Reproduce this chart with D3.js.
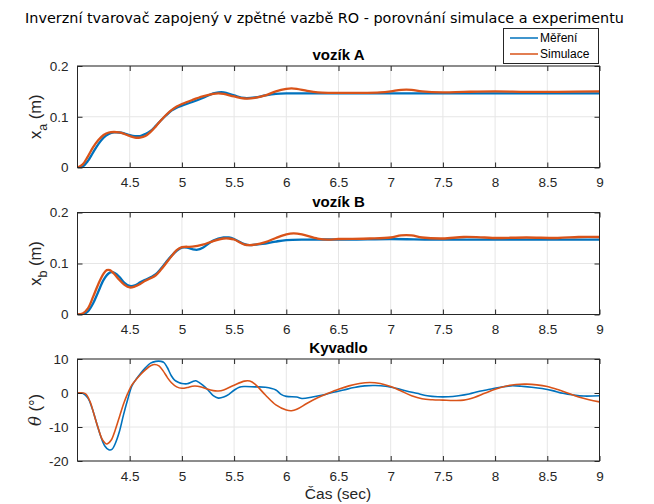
<!DOCTYPE html>
<html>
<head>
<meta charset="utf-8">
<script src="https://cdn.jsdelivr.net/npm/d3@7"></script>
<style>
body { margin: 0; background: #fff; }
svg { display: block; }
.tick text { font-family: "Liberation Sans", Arial, sans-serif; font-size: 13.5px; fill: #262626; }
</style>
</head>
<body>
<div id="chart"></div>
<script>
// cas (s) a hodnoty
var xTicks = [4.5, 5, 5.5, 6, 6.5, 7, 7.5, 8, 8.5, 9];

var tSimA = [4.0, 4.05, 4.1, 4.15, 4.2, 4.25, 4.3, 4.35, 4.4, 4.45, 4.5, 4.55, 4.6, 4.65, 4.7, 4.75, 4.8, 4.85, 4.9, 4.95, 5.0, 5.1, 5.2, 5.3, 5.35, 5.4, 5.5, 5.6, 5.7, 5.8, 5.9, 6.0, 6.05, 6.1, 6.2, 6.3, 6.4, 6.5, 6.7, 6.9, 7.0, 7.1, 7.2, 7.3, 7.5, 7.7, 8.0, 8.3, 8.6, 9.0];
var simA = [0, 0.006, 0.022, 0.040, 0.054, 0.064, 0.069, 0.070, 0.069, 0.066, 0.062, 0.059, 0.059, 0.062, 0.070, 0.081, 0.093, 0.104, 0.113, 0.120, 0.125, 0.133, 0.140, 0.145, 0.146, 0.145, 0.140, 0.136, 0.137, 0.142, 0.150, 0.155, 0.156, 0.155, 0.151, 0.148, 0.147, 0.147, 0.147, 0.148, 0.150, 0.153, 0.153, 0.150, 0.148, 0.149, 0.150, 0.149, 0.149, 0.150];
var tMerA = [4.0, 4.05, 4.1, 4.15, 4.2, 4.25, 4.3, 4.35, 4.4, 4.45, 4.5, 4.55, 4.6, 4.65, 4.7, 4.75, 4.8, 4.85, 4.9, 4.95, 5.0, 5.1, 5.2, 5.3, 5.35, 5.4, 5.5, 5.6, 5.7, 5.8, 5.9, 6.0, 6.3, 6.6, 7.0, 7.4, 7.8, 8.2, 8.6, 9.0];
var merA = [0, 0.002, 0.013, 0.030, 0.046, 0.059, 0.066, 0.069, 0.069, 0.067, 0.064, 0.062, 0.062, 0.066, 0.072, 0.082, 0.093, 0.103, 0.112, 0.118, 0.122, 0.129, 0.137, 0.146, 0.148, 0.148, 0.142, 0.137, 0.138, 0.142, 0.145, 0.146, 0.146, 0.146, 0.146, 0.146, 0.146, 0.146, 0.146, 0.146];

var tSimB = [4.0, 4.05, 4.1, 4.15, 4.2, 4.25, 4.28, 4.31, 4.35, 4.4, 4.45, 4.5, 4.55, 4.6, 4.65, 4.7, 4.75, 4.8, 4.85, 4.9, 4.95, 5.0, 5.1, 5.2, 5.3, 5.4, 5.45, 5.5, 5.6, 5.65, 5.7, 5.8, 5.9, 6.0, 6.07, 6.15, 6.3, 6.4, 6.5, 6.8, 7.0, 7.1, 7.2, 7.3, 7.5, 7.7, 7.9, 8.0, 8.3, 8.6, 8.8, 9.0];
var simB = [0, 0.002, 0.012, 0.035, 0.060, 0.080, 0.087, 0.087, 0.080, 0.068, 0.058, 0.053, 0.055, 0.060, 0.066, 0.071, 0.077, 0.088, 0.101, 0.114, 0.126, 0.132, 0.133, 0.137, 0.144, 0.149, 0.149, 0.147, 0.137, 0.136, 0.137, 0.142, 0.150, 0.157, 0.159, 0.157, 0.149, 0.147, 0.148, 0.149, 0.151, 0.155, 0.155, 0.151, 0.149, 0.152, 0.151, 0.150, 0.151, 0.150, 0.152, 0.152];
var tMerB = [4.0, 4.05, 4.1, 4.15, 4.2, 4.25, 4.3, 4.33, 4.36, 4.4, 4.45, 4.5, 4.55, 4.6, 4.65, 4.7, 4.75, 4.8, 4.85, 4.9, 4.95, 5.0, 5.05, 5.1, 5.15, 5.2, 5.3, 5.4, 5.45, 5.5, 5.6, 5.65, 5.7, 5.8, 5.9, 6.0, 6.2, 6.6, 7.0, 7.4, 7.8, 8.2, 8.6, 9.0];
var merB = [0, 0, 0.006, 0.022, 0.045, 0.068, 0.081, 0.083, 0.081, 0.074, 0.062, 0.056, 0.057, 0.063, 0.068, 0.073, 0.079, 0.090, 0.103, 0.115, 0.125, 0.131, 0.131, 0.128, 0.127, 0.131, 0.145, 0.151, 0.151, 0.148, 0.138, 0.136, 0.137, 0.139, 0.143, 0.146, 0.147, 0.147, 0.148, 0.147, 0.147, 0.147, 0.147, 0.147];

var tSimK = [4.0, 4.05, 4.08, 4.12, 4.16, 4.2, 4.24, 4.28, 4.32, 4.36, 4.4, 4.44, 4.48, 4.52, 4.56, 4.6, 4.65, 4.7, 4.74, 4.78, 4.82, 4.86, 4.9, 4.95, 5.0, 5.05, 5.1, 5.15, 5.2, 5.3, 5.35, 5.4, 5.5, 5.6, 5.65, 5.7, 5.8, 5.9, 6.0, 6.05, 6.1, 6.2, 6.3, 6.4, 6.5, 6.6, 6.7, 6.8, 6.9, 7.0, 7.1, 7.2, 7.3, 7.4, 7.5, 7.6, 7.7, 7.8, 7.9, 8.0, 8.1, 8.2, 8.3, 8.4, 8.5, 8.6, 8.7, 8.8, 8.9, 9.0];
var simK = [0, 0, -0.3, -2.5, -6.5, -10.5, -13.8, -15.0, -14.0, -11.0, -7.2, -3.3, -0.2, 2.3, 3.9, 5.3, 6.8, 8.0, 8.4, 8.0, 6.5, 4.6, 3.0, 1.8, 1.4, 1.6, 2.0, 2.0, 1.6, 0.7, 0.6, 0.9, 2.3, 3.5, 3.5, 2.6, -0.6, -3.5, -5.0, -5.2, -4.8, -3.0, -1.4, -0.1, 1.1, 2.1, 2.8, 3.1, 2.8, 1.9, 0.6, -0.8, -1.7, -2.0, -2.1, -2.2, -2.1, -1.3, -0.1, 1.1, 2.0, 2.5, 2.6, 2.4, 1.9, 1.0, -0.1, -1.2, -2.0, -2.6];
var tMerK = [4.0, 4.05, 4.1, 4.14, 4.18, 4.22, 4.26, 4.3, 4.33, 4.36, 4.4, 4.44, 4.48, 4.52, 4.56, 4.6, 4.65, 4.7, 4.75, 4.8, 4.83, 4.86, 4.9, 4.93, 4.97, 5.0, 5.05, 5.1, 5.13, 5.16, 5.2, 5.25, 5.3, 5.35, 5.4, 5.45, 5.5, 5.55, 5.6, 5.7, 5.8, 5.9, 5.95, 6.0, 6.1, 6.15, 6.25, 6.35, 6.45, 6.55, 6.65, 6.75, 6.85, 6.95, 7.05, 7.15, 7.25, 7.35, 7.45, 7.55, 7.65, 7.75, 7.85, 7.95, 8.05, 8.15, 8.25, 8.35, 8.45, 8.55, 8.65, 8.75, 8.85, 9.0];
var merK = [0, -0.1, -1.5, -4.5, -8.5, -12.5, -15.5, -16.7, -16.6, -15.0, -11.5, -6.5, -2.0, 2.0, 4.0, 5.6, 7.4, 8.8, 9.3, 9.3, 8.9, 7.5, 5.0, 3.8, 3.1, 2.8, 2.7, 3.3, 3.6, 3.2, 2.3, 0.9, -0.8, -1.5, -1.2, -0.4, 0.8, 1.7, 1.9, 1.8, 1.7, 0.9, -0.4, -1.0, -1.2, -1.6, -1.2, -0.6, 0.2, 0.9, 1.6, 2.1, 2.2, 2.0, 1.4, 0.6, -0.1, -0.8, -1.1, -1.1, -0.8, -0.3, 0.5, 1.1, 1.7, 2.1, 2.0, 1.7, 1.3, 0.7, -0.1, -0.6, -0.9, -0.8];

var yTicksX = [0, 0.1, 0.2];
var yTicksK = [-20, -10, 0, 10];

var colMer = "#0072BD", colSim = "#D95319";

var W = 654, H = 504;
var svg = d3.select("#chart").append("svg").attr("width", W).attr("height", H);

var xScale = d3.scaleLinear().domain([4.0, 9]).range([77.5, 599.5]);

function zip(t, v) { return t.map(function(d, i) { return [d, v[i]]; }); }

function panel(cfg) {
  var y = d3.scaleLinear().domain(cfg.domain).range([cfg.bottom, cfg.top]);
  var g = svg.append("g");
  var x0 = xScale.range()[0], x1 = xScale.range()[1];

  // mrizka
  g.selectAll(".gx").data(xTicks).enter().append("line")
    .attr("x1", function(d) { return xScale(d); }).attr("x2", function(d) { return xScale(d); })
    .attr("y1", cfg.top).attr("y2", cfg.bottom)
    .attr("stroke", "#e6e6e6").attr("stroke-width", 1);
  g.selectAll(".gy").data(cfg.yTicks).enter().append("line")
    .attr("x1", x0).attr("x2", x1)
    .attr("y1", function(d) { return y(d); }).attr("y2", function(d) { return y(d); })
    .attr("stroke", "#e6e6e6").attr("stroke-width", 1);

  var clipId = "clip" + cfg.id;
  svg.append("clipPath").attr("id", clipId).append("rect")
    .attr("x", x0).attr("y", cfg.top).attr("width", x1 - x0).attr("height", cfg.bottom - cfg.top);

  var lineSim = d3.line().curve(d3.curveCatmullRom).x(function(d) { return xScale(d[0]); }).y(function(d) { return y(d[1]); });
  var lines = g.append("g").attr("clip-path", "url(#" + clipId + ")");
  lines.append("path").datum(zip(cfg.tMer, cfg.mer))
    .attr("d", lineSim).attr("fill", "none").attr("stroke", colMer).attr("stroke-width", cfg.lw);
  lines.append("path").datum(zip(cfg.tSim, cfg.sim))
    .attr("d", lineSim).attr("fill", "none").attr("stroke", colSim).attr("stroke-width", cfg.lw);

  // osy
  var fmt = function(d) { return String(d); };
  g.append("g").attr("transform", "translate(0," + cfg.bottom + ")")
    .call(d3.axisBottom(xScale).tickValues(xTicks).tickFormat(fmt).tickSizeInner(-5).tickSizeOuter(0).tickPadding(10));
  g.append("g").attr("transform", "translate(0," + cfg.top + ")")
    .call(d3.axisTop(xScale).tickValues(xTicks).tickFormat("").tickSizeInner(-5).tickSizeOuter(0));
  g.append("g").attr("transform", "translate(" + x0 + ",0)")
    .call(d3.axisLeft(y).tickValues(cfg.yTicks).tickFormat(fmt).tickSizeInner(-5).tickSizeOuter(0).tickPadding(9));
  g.append("g").attr("transform", "translate(" + x1 + ",0)")
    .call(d3.axisRight(y).tickValues(cfg.yTicks).tickFormat("").tickSizeInner(-5).tickSizeOuter(0));
  g.selectAll(".domain").remove();
  g.selectAll(".tick line").attr("stroke", "#262626");
  g.append("rect").attr("x", x0).attr("y", cfg.top).attr("width", x1 - x0).attr("height", cfg.bottom - cfg.top)
    .attr("fill", "none").attr("stroke", "#262626").attr("stroke-width", 1);

  // nadpis panelu
  g.append("text").attr("x", (x0 + x1) / 2).attr("y", cfg.top - 6)
    .attr("text-anchor", "middle").attr("font-family", "Liberation Sans, Arial, sans-serif")
    .attr("font-size", 15).attr("font-weight", "bold").attr("fill", "#000").text(cfg.title);

  // popis osy y
  var yl = g.append("text").attr("transform", "translate(41," + ((cfg.top + cfg.bottom) / 2) + ") rotate(-90)")
    .attr("text-anchor", "middle").attr("font-family", "Liberation Sans, Arial, sans-serif")
    .attr("font-size", 16.5).attr("fill", "#262626");
  cfg.ylabel(yl);
}

panel({ id: "A", top: 66, bottom: 167.5, domain: [0, 0.2], yTicks: yTicksX, title: "vozík A", lw: 2.3,
  tMer: tMerA, mer: merA, tSim: tSimA, sim: simA,
  ylabel: function(t) {
    t.append("tspan").text("x");
    t.append("tspan").attr("font-size", 12.5).attr("dy", 6).text("a");
    t.append("tspan").attr("dy", -6).text(" (m)");
  } });

panel({ id: "B", top: 212.5, bottom: 314.5, domain: [0, 0.2], yTicks: yTicksX, title: "vozík B", lw: 2.3,
  tMer: tMerB, mer: merB, tSim: tSimB, sim: simB,
  ylabel: function(t) {
    t.append("tspan").text("x");
    t.append("tspan").attr("font-size", 12.5).attr("dy", 6).text("b");
    t.append("tspan").attr("dy", -6).text(" (m)");
  } });

panel({ id: "K", top: 359, bottom: 461, domain: [-20, 10], yTicks: yTicksK, title: "Kyvadlo", lw: 1.6,
  tMer: tMerK, mer: merK, tSim: tSimK, sim: simK,
  ylabel: function(t) {
    t.append("tspan").attr("font-style", "italic").attr("font-family", "DejaVu Serif, serif").text("θ");
    t.append("tspan").text(" (°)");
  } });

// hlavni nadpis
svg.append("text").attr("x", 324.5).attr("y", 23).attr("text-anchor", "middle")
  .attr("font-family", "DejaVu Sans, sans-serif").attr("font-size", 14.4).attr("fill", "#000")
  .text("Inverzní tvarovač zapojený v zpětné vazbě RO - porovnání simulace a experimentu");

// popis osy x
svg.append("text").attr("x", 338).attr("y", 499).attr("text-anchor", "middle")
  .attr("font-family", "Liberation Sans, Arial, sans-serif").attr("font-size", 15.5).attr("fill", "#262626")
  .text("Čas (sec)");

// legenda
var leg = svg.append("g");
leg.append("rect").attr("x", 503.5).attr("y", 28.5).attr("width", 95).attr("height", 35)
  .attr("fill", "#fff").attr("stroke", "#262626").attr("stroke-width", 1);
var legItems = [["Měření", colMer], ["Simulace", colSim]];
legItems.forEach(function(it, i) {
  var yy = 38 + i * 16;
  leg.append("line").attr("x1", 510).attr("x2", 538).attr("y1", yy).attr("y2", yy)
    .attr("stroke", it[1]).attr("stroke-width", 1.5);
  leg.append("text").attr("x", 540).attr("y", yy + 4).attr("font-family", "Liberation Sans, Arial, sans-serif")
    .attr("font-size", 12).attr("fill", "#000").text(it[0]);
});
</script>
</body>
</html>
